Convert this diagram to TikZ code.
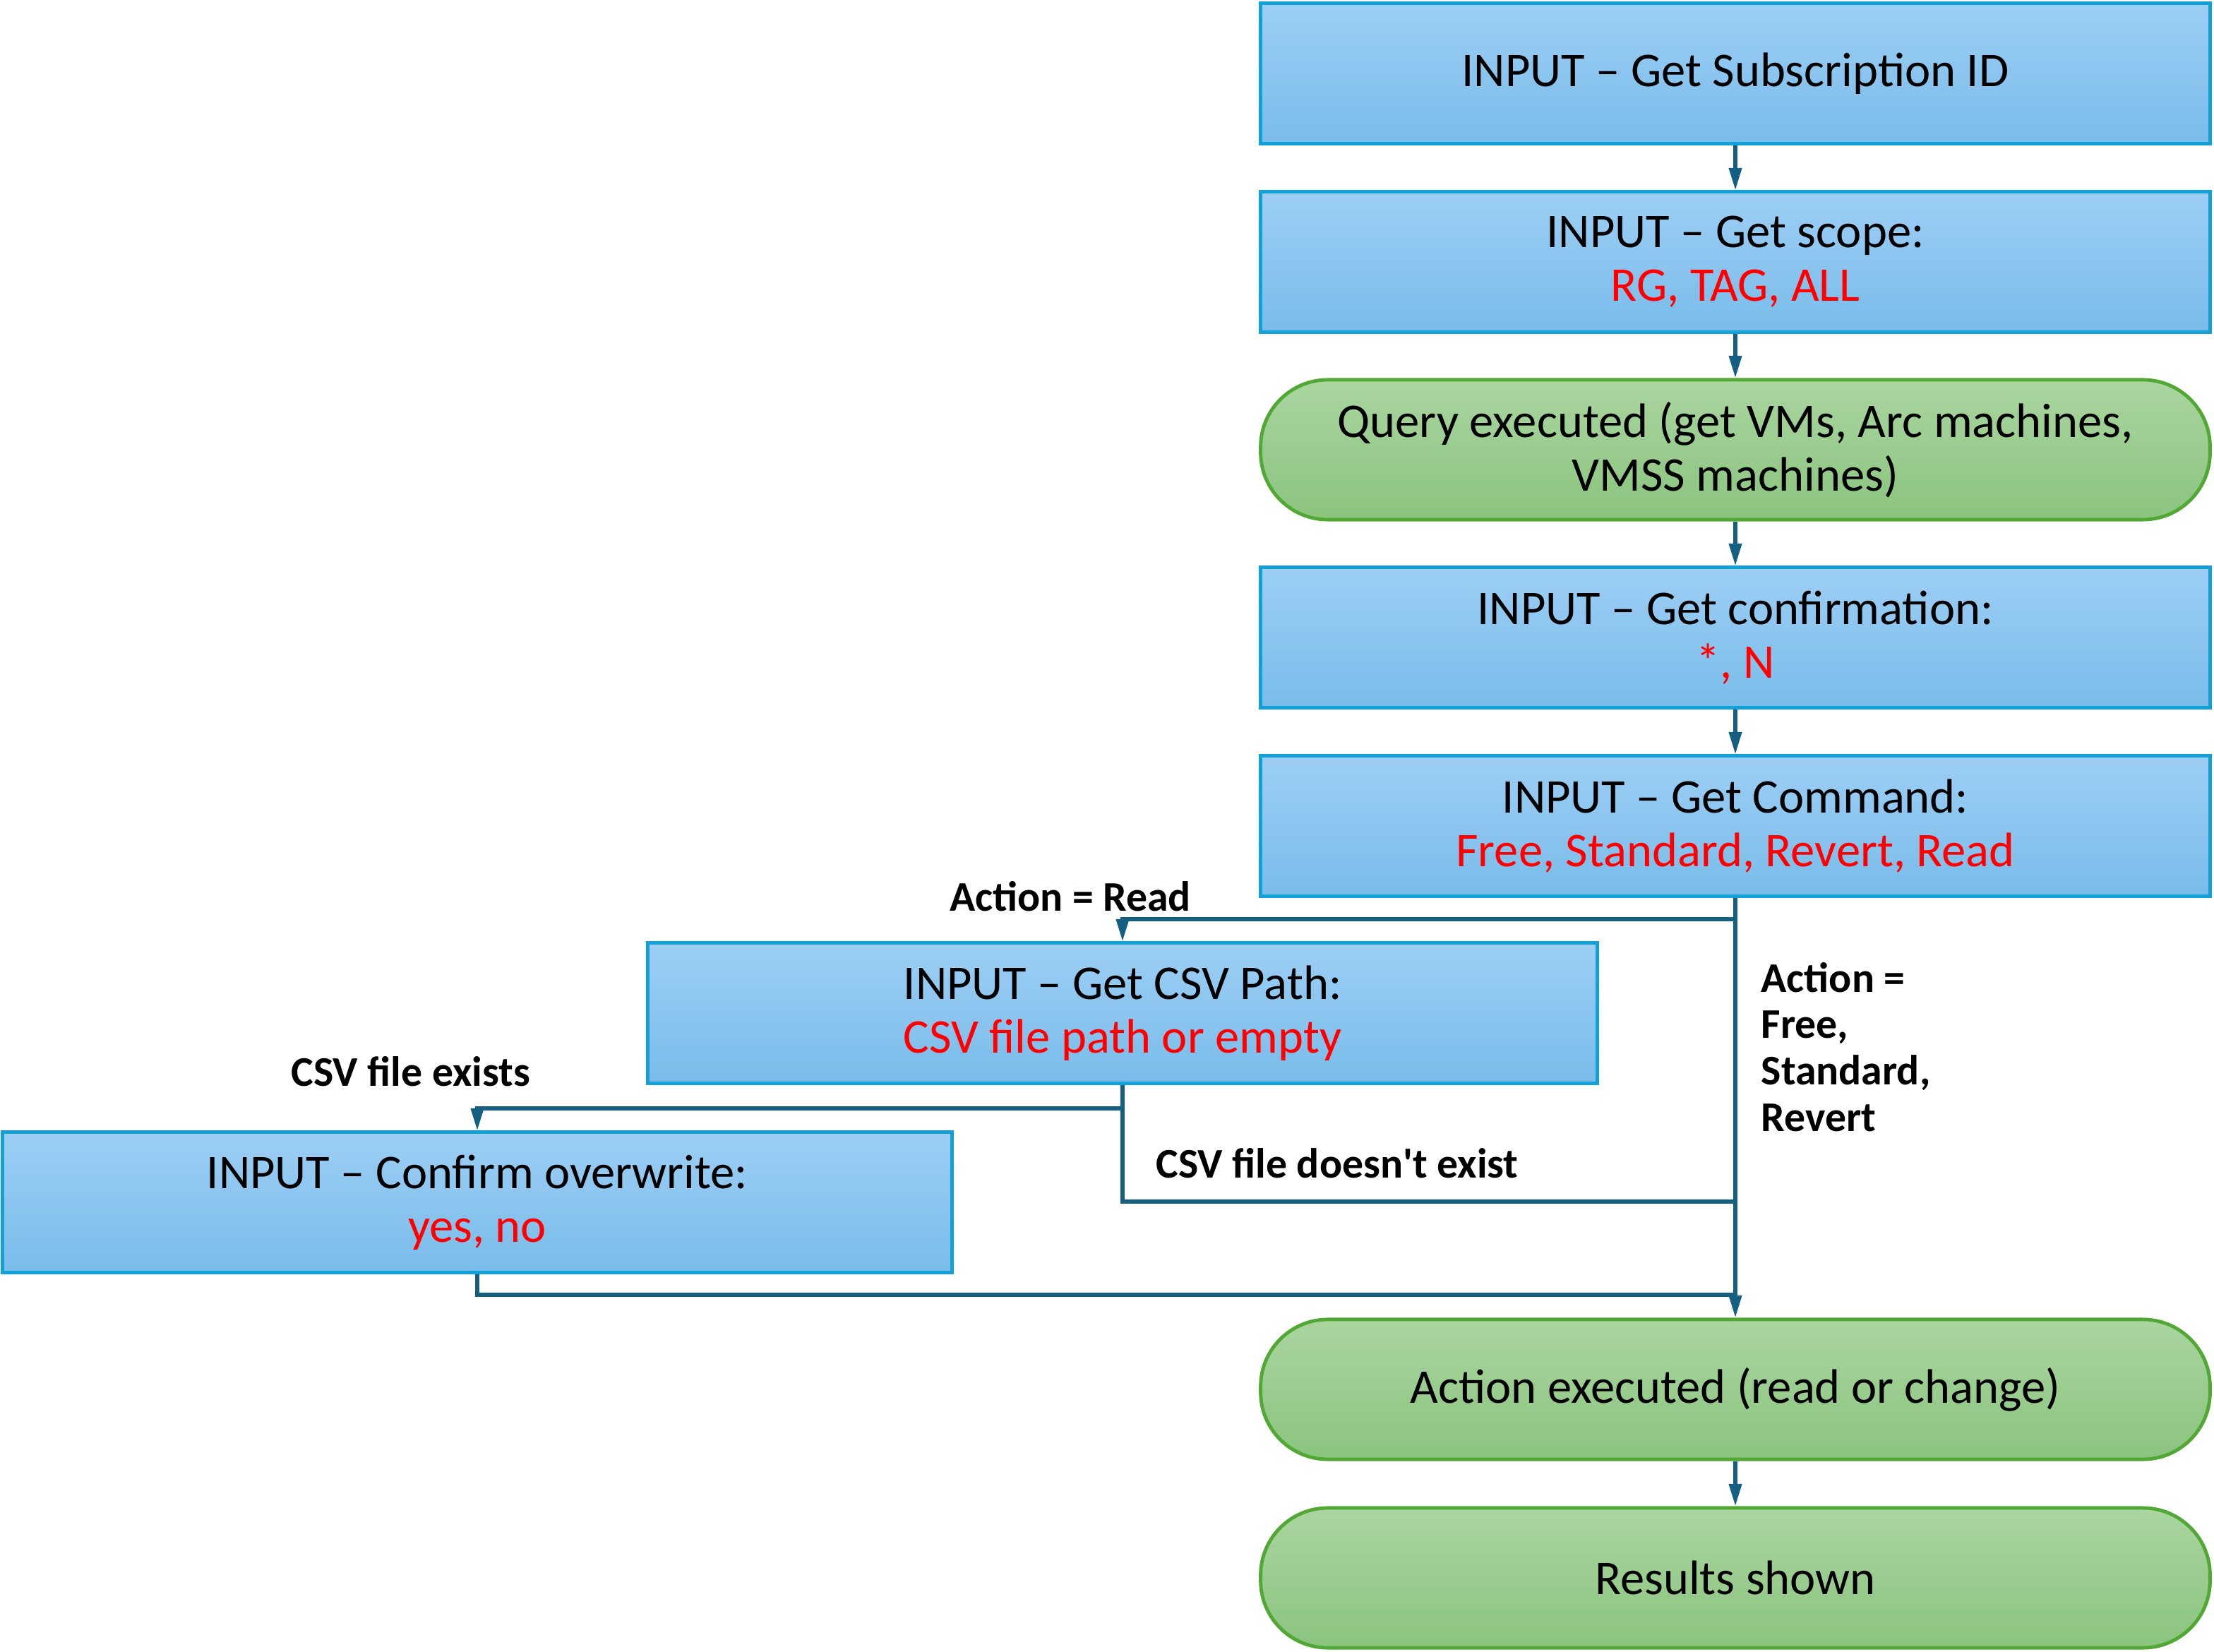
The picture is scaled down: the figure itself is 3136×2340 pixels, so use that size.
\documentclass[tikz,border=0pt]{standalone}
\usepackage{fontspec}
\setmainfont{Carlito}
\usetikzlibrary{arrows.meta}
\definecolor{bluetop}{HTML}{9DCEF4}
\definecolor{bluebot}{HTML}{79BCEA}
\definecolor{blueline}{HTML}{12A0D8}
\definecolor{greentop}{HTML}{AAD5A0}
\definecolor{greenbot}{HTML}{8AC47E}
\definecolor{greenline}{HTML}{52A834}
\definecolor{connc}{HTML}{145F82}
\definecolor{redtxt}{HTML}{FF0000}
\tikzset{
  inbox/.style={draw=blueline, line width=1.4pt, top color=bluetop, bottom color=bluebot,
    minimum width=13.44cm, minimum height=1.98cm, align=center, inner sep=0pt,
    font=\fontsize{19.5}{21.6}\selectfont},
  termbox/.style={draw=greenline, line width=1.4pt, top color=greentop, bottom color=greenbot,
    rounded corners=0.95cm, minimum width=13.44cm, minimum height=1.98cm, align=center, inner sep=0pt,
    font=\fontsize{19.5}{21.6}\selectfont},
  conn/.style={draw=connc, line width=1.5pt, -{Triangle[length=9pt,width=5pt]}},
  plainconn/.style={draw=connc, line width=1.5pt},
  lbl/.style={font=\bfseries\fontsize{17}{18.7}\selectfont, inner sep=0pt}
}
\begin{document}
\begin{tikzpicture}[x=0.01cm,y=-0.01cm]
\useasboundingbox (0,0) rectangle (3136,2340);
\node[inbox] (n1) at (2458,104) {INPUT – Get Subscription ID};
\node[inbox] (n2) at (2458,371) {INPUT – Get scope:\\\textcolor{redtxt}{RG, TAG, ALL}};
\node[termbox] (n3) at (2458,637) {Query executed (get VMs, Arc machines,\\VMSS machines)};
\node[inbox] (n4) at (2458,903) {INPUT – Get confirmation:\\\textcolor{redtxt}{*, N}};
\node[inbox] (n5) at (2458,1170) {INPUT – Get Command:\\\textcolor{redtxt}{Free, Standard, Revert, Read}};
\node[inbox] (csv) at (1590,1435) {INPUT – Get CSV Path:\\\textcolor{redtxt}{CSV file path or empty}};
\node[inbox] (conf) at (676,1703) {INPUT – Confirm overwrite:\\\textcolor{redtxt}{yes, no}};
\node[termbox] (act) at (2458,1968) {Action executed (read or change)};
\node[termbox] (res) at (2458,2235) {Results shown};

\coordinate (rdj) at (1590,1302);
\coordinate (exj) at (676,1570);
\coordinate (nxj) at (2458,1702);
\coordinate (cfj) at (2458,1834);

\draw[conn] (n1) -- (n2);
\draw[conn] (n2) -- (n3);
\draw[conn] (n3) -- (n4);
\draw[conn] (n4) -- (n5);
\draw[conn] (n5.south) -- (act.north);
\draw[conn] (n5.south) |- (rdj) -- (csv.north);
\draw[conn] (csv.south) |- (exj) -- (conf.north);
\draw[plainconn] (csv.south) |- (nxj);
\draw[plainconn] (conf.south) |- (cfj);
\draw[conn] (act) -- (res);

\node[lbl] (l1) at (1516,1270) {Action = Read};
\node[lbl, anchor=west, align=left] (l2) at (2494,1483) {Action =\\Free,\\Standard,\\Revert};
\node[lbl] (l3) at (582,1518) {CSV file exists};
\node[lbl] (l4) at (1894,1648) {CSV file doesn\textquotesingle t exist};
\end{tikzpicture}
\end{document}
